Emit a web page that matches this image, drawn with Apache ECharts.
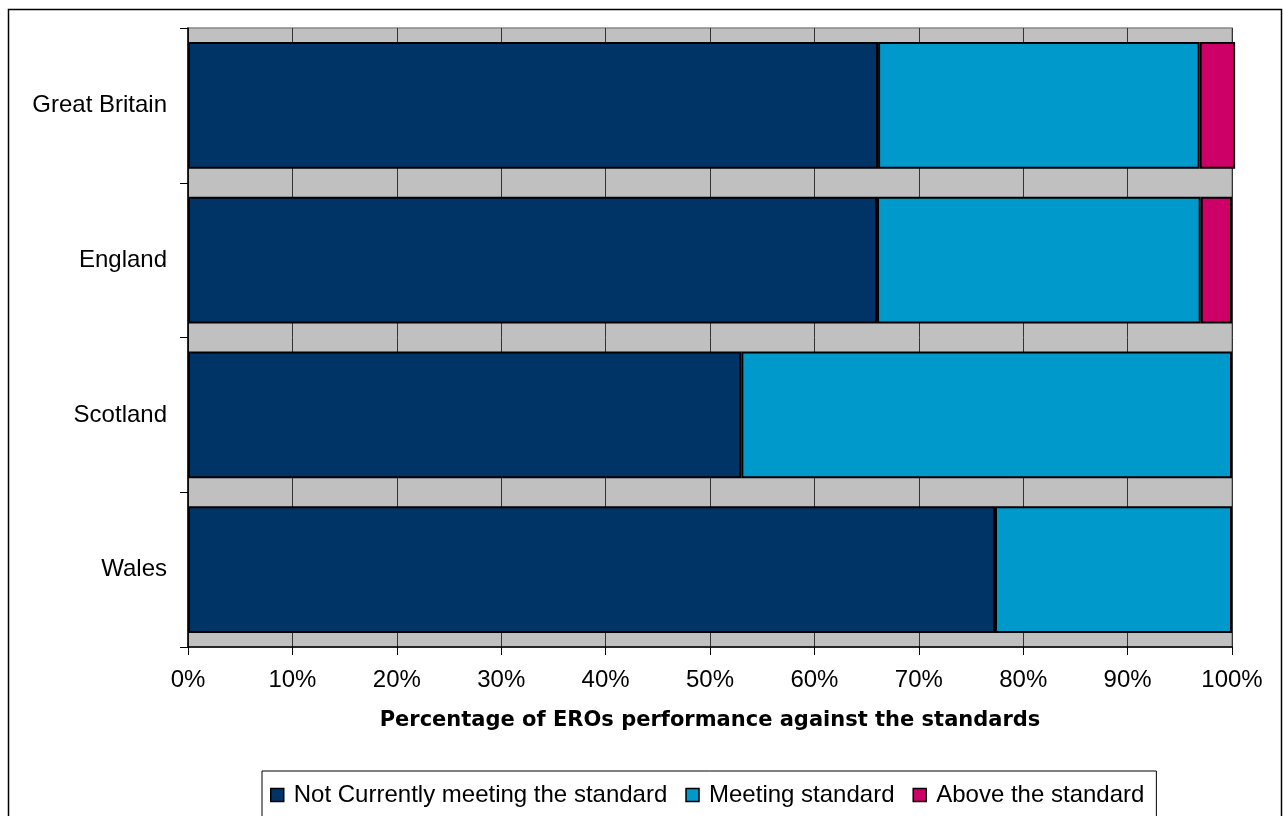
<html>
<head>
<meta charset="utf-8">
<title>ERO performance against the standards</title>
<script src="https://cdn.jsdelivr.net/npm/echarts@6/dist/echarts.min.js"></script>
</head>
<body style="margin:0;background:#fff">
<div id="main" style="width:1283px;height:816px;"></div>
<script>
// categories, top to bottom
var regions = ['Great Britain', 'England', 'Scotland', 'Wales'];
// percentages per region
var notMeeting = [66.1, 66.0, 53.0, 77.3];
var meeting = [30.8, 31.0, 47.0, 22.7];
var above = [3.4, 3.0, null, null];
var seriesNames = ['Not Currently meeting the standard', 'Meeting standard', 'Above the standard'];
var colors = ['#003366', '#0099CC', '#CC0066'];

var myChart = echarts.init(document.getElementById('main'));

function barSeries(i, data) {
	return {
		name: seriesNames[i],
		type: 'bar',
		stack: 'total',
		data: data,
		clip: false,
		barCategoryGap: '18%',
		itemStyle: {
			color: colors[i],
			borderColor: '#000',
			borderWidth: 2
		}
	};
}

var option = {
	animation: false,
	textStyle: {fontFamily: 'Liberation Sans, Arial, sans-serif'},
	graphic: [{
		// outer frame of the chart
		type: 'rect',
		shape: {x: 8.5, y: 9.5, width: 1273, height: 830},
		style: {fill: 'none', stroke: '#000', lineWidth: 1.5},
		silent: true,
		z: -1
	}],
	grid: {
		left: 188,
		right: 51,
		top: 28,
		bottom: 169,
		show: true,
		backgroundColor: '#C0C0C0',
		borderColor: '#888',
		borderWidth: 1.5
	},
	legend: {
		top: 771,
		left: 262,
		data: seriesNames,
		icon: 'rect',
		itemWidth: 13,
		itemHeight: 13,
		itemGap: 18,
		padding: [12, 12, 20, 8],
		borderColor: '#000',
		borderWidth: 1,
		backgroundColor: '#fff',
		itemStyle: {borderColor: '#000', borderWidth: 1.5},
		textStyle: {fontSize: 24, color: '#000', padding: [0, 0, 0, 5]}
	},
	xAxis: {
		type: 'value',
		min: 0,
		max: 100,
		interval: 10,
		name: 'Percentage of EROs performance against the standards',
		nameLocation: 'middle',
		nameGap: 63,
		nameTextStyle: {fontSize: 21, fontWeight: 'bold', color: '#000', fontFamily: 'DejaVu Sans'},
		axisLine: {show: true, lineStyle: {color: '#000', width: 1.5}},
		axisTick: {show: true, length: 8, lineStyle: {color: '#000'}},
		axisLabel: {formatter: '{value}%', fontSize: 24, color: '#000', margin: 21},
		splitLine: {show: true, lineStyle: {color: '#333', width: 1}}
	},
	yAxis: {
		type: 'category',
		data: regions,
		inverse: true,
		axisLine: {show: true, lineStyle: {color: '#000', width: 1.5}},
		axisTick: {show: true, length: 8, lineStyle: {color: '#000'}},
		axisLabel: {fontSize: 24, color: '#000', margin: 21},
		splitLine: {show: false}
	},
	series: [
		barSeries(0, notMeeting),
		barSeries(1, meeting),
		barSeries(2, above)
	]
};

myChart.setOption(option);
</script>
</body>
</html>
